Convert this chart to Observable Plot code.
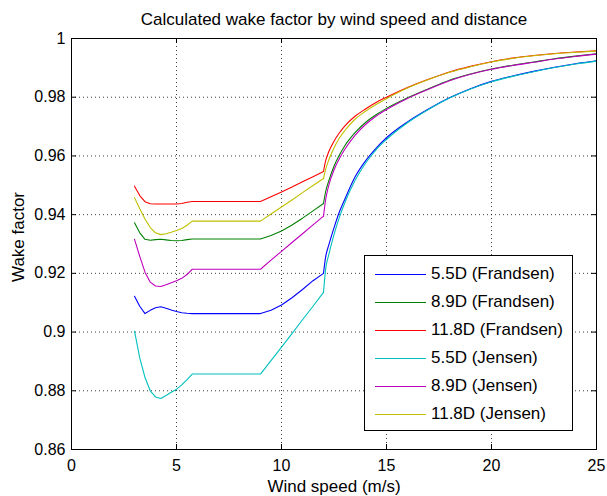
<!DOCTYPE html>
<html>
<head>
<meta charset="utf-8">
<script src="https://cdn.jsdelivr.net/npm/d3@7"></script>
<script src="https://cdn.jsdelivr.net/npm/@observablehq/plot@0.6"></script>
<style>
  html, body { margin: 0; padding: 0; background: #fff; }
  #wrap { position: relative; width: 607px; height: 496px; font-family: "Liberation Sans", Arial, Helvetica, sans-serif; }
  #legend { position: absolute; left: 364px; top: 255px; width: 207px; height: 174px; border: 1px solid #000; background: #fff; box-sizing: content-box; }
  .row { position: absolute; left: 0; height: 28px; display: flex; align-items: center; font-size: 17px; color: #000; white-space: nowrap; }
  .swatch { width: 51px; height: 0; margin-left: 10px; margin-right: 5px; }
</style>
</head>
<body>
<div id="wrap"></div>
<script>
const windSpeed = [3, 3.25, 3.5, 3.75, 4, 4.25, 4.5, 4.75, 5, 5.25, 5.5, 5.75,
  9, 9.5, 10, 10.5, 11, 11.5, 12,
  12.1, 12.25, 12.5, 12.75, 13, 13.5, 14, 14.5, 15,
  16, 17, 18, 19, 20, 21, 22, 23, 24, 25];

const frandsen55 = [0.9122, 0.9088, 0.9063, 0.9074, 0.9083, 0.9086, 0.9081, 0.9075, 0.9070, 0.9066, 0.9064, 0.9063,
  0.9063, 0.9074, 0.9092, 0.9117, 0.9145, 0.9175, 0.9200,
  0.9255, 0.9296, 0.9355, 0.9408, 0.9450, 0.9528, 0.9583, 0.9626, 0.9662,
  0.9716, 0.9760, 0.9798, 0.9829, 0.9854, 0.9872, 0.9888, 0.9902, 0.9914, 0.9924];
const frandsen89 = [0.9372, 0.9338, 0.9316, 0.9313, 0.9315, 0.9316, 0.9314, 0.9312, 0.9311, 0.9312, 0.9315, 0.9317,
  0.9317, 0.9329, 0.9344, 0.9365, 0.9388, 0.9413, 0.9438,
  0.9478, 0.9515, 0.9565, 0.9602, 0.9633, 0.9679, 0.9714, 0.9740, 0.9762,
  0.9798, 0.9829, 0.9858, 0.9879, 0.9896, 0.9909, 0.9920, 0.9931, 0.9940, 0.9948];
const frandsen118 = [0.9497, 0.9465, 0.9444, 0.9437, 0.9436, 0.9436, 0.9436, 0.9436, 0.9436, 0.9438, 0.9442, 0.9445,
  0.9445, 0.9461, 0.9477, 0.9494, 0.9512, 0.9529, 0.9547,
  0.9583, 0.9614, 0.9650, 0.9678, 0.9701, 0.9735, 0.9760, 0.9782, 0.9800,
  0.9833, 0.9861, 0.9886, 0.9905, 0.9921, 0.9933, 0.9942, 0.9949, 0.9954, 0.9958];
const jensen55 = [0.9003, 0.8912, 0.8845, 0.8800, 0.8779, 0.8774, 0.8784, 0.8795, 0.8805, 0.8820, 0.8838, 0.8857,
  0.8857, 0.8903, 0.8949, 0.8995, 0.9042, 0.9088, 0.9135,
  0.9213, 0.9263, 0.9332, 0.9390, 0.9438, 0.9516, 0.9575, 0.9621, 0.9656,
  0.9713, 0.9758, 0.9797, 0.9828, 0.9853, 0.9871, 0.9887, 0.9901, 0.9913, 0.9923];
const jensen89 = [0.9316, 0.9258, 0.9204, 0.9170, 0.9157, 0.9155, 0.9161, 0.9168, 0.9175, 0.9183, 0.9196, 0.9214,
  0.9214, 0.9245, 0.9275, 0.9305, 0.9335, 0.9365, 0.9395,
  0.9450, 0.9500, 0.9552, 0.9590, 0.9621, 0.9670, 0.9707, 0.9735, 0.9758,
  0.9796, 0.9827, 0.9856, 0.9878, 0.9895, 0.9908, 0.9919, 0.9930, 0.9939, 0.9947];
const jensen118 = [0.9458, 0.9420, 0.9385, 0.9356, 0.9338, 0.9332, 0.9335, 0.9340, 0.9346, 0.9353, 0.9364, 0.9378,
  0.9378, 0.9402, 0.9426, 0.9450, 0.9475, 0.9499, 0.9523,
  0.9553, 0.9586, 0.9627, 0.9660, 0.9685, 0.9725, 0.9752, 0.9775, 0.9795,
  0.9831, 0.9860, 0.9885, 0.9904, 0.9920, 0.9932, 0.9941, 0.9948, 0.9953, 0.9957];

const seriesNames = ["5.5D (Frandsen)", "8.9D (Frandsen)", "11.8D (Frandsen)", "5.5D (Jensen)", "8.9D (Jensen)", "11.8D (Jensen)"];
const seriesColors = ["#0000ff", "#008000", "#ff0000", "#00bfbf", "#bf00bf", "#bfbf00"];
const xTicks = [0, 5, 10, 15, 20, 25];
const yTicks = [0.86, 0.88, 0.90, 0.92, 0.94, 0.96, 0.98, 1.00];
const ratedSpeed = 12;
const titleText = "Calculated wake factor by wind speed and distance";
const xLabel = "Wind speed (m/s)";
const yLabel = "Wake factor";

const seriesValues = [frandsen55, frandsen89, frandsen118, jensen55, jensen89, jensen118];
const rows = [];
seriesValues.forEach((vals, i) => {
  vals.forEach((v, j) => rows.push({series: seriesNames[i], speed: windSpeed[j], value: v}));
});
const belowRated = rows.filter(r => r.speed <= ratedSpeed);
const aboveRated = rows.filter(r => r.speed >= ratedSpeed);

const font = '"Liberation Sans", Arial, Helvetica, sans-serif';
const lineOpts = {x: "speed", y: "value", z: "series", stroke: "series", strokeWidth: 1.1};
const chart = Plot.plot({
  width: 607,
  height: 496,
  marginLeft: 71,
  marginRight: 11,
  marginTop: 38,
  marginBottom: 47,
  style: {fontFamily: font, fontSize: "16px", background: "#fff", color: "#000", overflow: "visible"},
  x: {domain: [0, 25]},
  y: {domain: [0.86, 1]},
  color: {domain: seriesNames, range: seriesColors},
  marks: [
    Plot.gridX(xTicks, {stroke: "#000", strokeOpacity: 0.75, strokeDasharray: "1,3"}),
    Plot.gridY(yTicks, {stroke: "#000", strokeOpacity: 0.75, strokeDasharray: "1,3"}),
    Plot.line(belowRated, {...lineOpts, curve: "linear"}),
    Plot.line(aboveRated, {...lineOpts, curve: "monotone-x"}),
    Plot.tickX(xTicks, {x: d => d, insetTop: 406, stroke: "#000"}),
    Plot.tickX(xTicks, {x: d => d, insetBottom: 406, stroke: "#000"}),
    Plot.tickY(yTicks, {y: d => d, insetRight: 520, stroke: "#000"}),
    Plot.tickY(yTicks, {y: d => d, insetLeft: 520, stroke: "#000"}),
    Plot.axisX(xTicks, {tickSize: 0, tickPadding: 10, label: null, fontSize: 16}),
    Plot.axisY(yTicks, {tickSize: 0, tickPadding: 6, label: null, fontSize: 16, tickFormat: d3.format(".2~f")}),
    Plot.frame({stroke: "#000"}),
    Plot.text([titleText], {frameAnchor: "top", lineAnchor: "bottom", dy: -14, fontSize: 17, fill: "#000"}),
    Plot.text([xLabel], {frameAnchor: "bottom", lineAnchor: "bottom", dy: 42, fontSize: 17, fill: "#000"}),
    Plot.text([yLabel], {frameAnchor: "left", rotate: -90, textAnchor: "middle", lineAnchor: "middle", dx: -53, dy: -7, fontSize: 17, fill: "#000"})
  ]
});

const wrap = document.getElementById("wrap");
wrap.appendChild(chart);

const legend = document.createElement("div");
legend.id = "legend";
seriesNames.forEach((name, i) => {
  const row = document.createElement("div");
  row.className = "row";
  row.style.top = (4 + i * 28) + "px";
  const sw = document.createElement("div");
  sw.className = "swatch";
  sw.style.borderTop = "1.2px solid " + seriesColors[i];
  const label = document.createElement("span");
  label.textContent = name;
  row.appendChild(sw);
  row.appendChild(label);
  legend.appendChild(row);
});
wrap.appendChild(legend);
</script>
</body>
</html>
